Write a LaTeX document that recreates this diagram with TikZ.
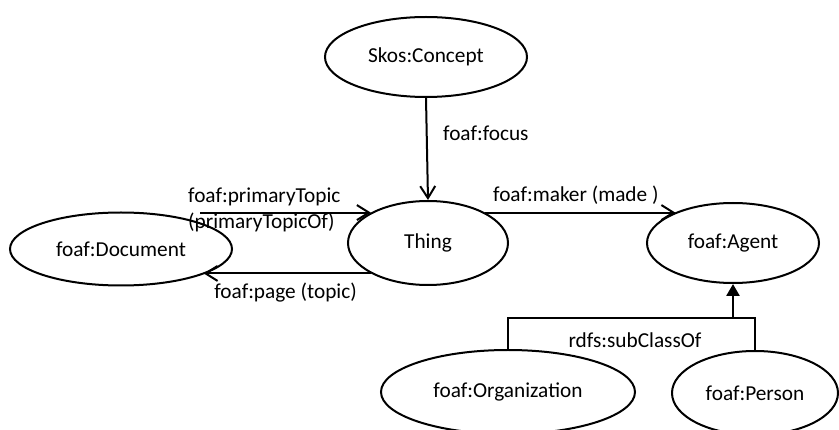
\documentclass[tikz,border=0pt]{standalone}
\usepackage{fontspec}
\setmainfont{Carlito}
\usetikzlibrary{shapes.geometric,arrows.meta}
\begin{document}
\begin{tikzpicture}[x=1pt,y=-1pt,
  lbl/.style={font=\fontsize{21.3}{25}\selectfont, inner sep=0pt},
  ell/.style={ellipse, draw, line width=2pt, inner sep=0pt, font=\fontsize{21.3}{25}\selectfont},
  rel/.style={line width=2pt, -{Straight Barb[length=12pt,width=15pt,line width=2pt]}},
  sub/.style={line width=2.6pt}]
\useasboundingbox (0,0) rectangle (839,430);
\node[ell, minimum width=202pt, minimum height=80pt] (skos) at (426,57) {Skos:Concept};
\node[ell, minimum width=160pt, minimum height=84pt] (thing) at (428,243) {Thing};
\node[ell, minimum width=222pt, minimum height=73pt] (doc) at (121,249) {foaf:Document};
\node[ell, minimum width=172pt, minimum height=80pt] (agent) at (733,243) {foaf:Agent};
\node[ell, minimum width=254pt, minimum height=84pt] (org) at (508,392) {foaf:Organization};
\node[ell, minimum width=166pt, minimum height=84pt] (pers) at (755,393) {foaf:Person};

\coordinate (ptstart) at (200,213);
\coordinate (bar) at (733,318);

\draw[rel] (skos.south) -- (thing.north);
\draw[rel] (thing.152 -| ptstart) -- (thing.152);
\draw[rel] (thing.208) -- (thing.208 -| doc.-17);
\draw[rel] (thing.28) -- (thing.28 -| agent.152);
\draw[sub] (org.north) |- (bar) -| (pers.north);
\draw[sub, -{Triangle[length=12pt,width=13pt]}] (bar) -- (agent.south);

\node[lbl, anchor=west] (lfocus) at (443,133) {foaf:focus};
\node[lbl, anchor=west] (lpt) at (188,197) {foaf:primaryTopic};
\node[lbl, anchor=west] (lpto) at (188,222) {(primaryTopicOf)};
\node[lbl, anchor=east] (lpage) at (357,293) {foaf:page (topic)};
\node[lbl, anchor=west] (lmaker) at (493,195) {foaf:maker (made )};
\node[lbl] (lsub) at (635,340) {rdfs:subClassOf};
\end{tikzpicture}
\end{document}
